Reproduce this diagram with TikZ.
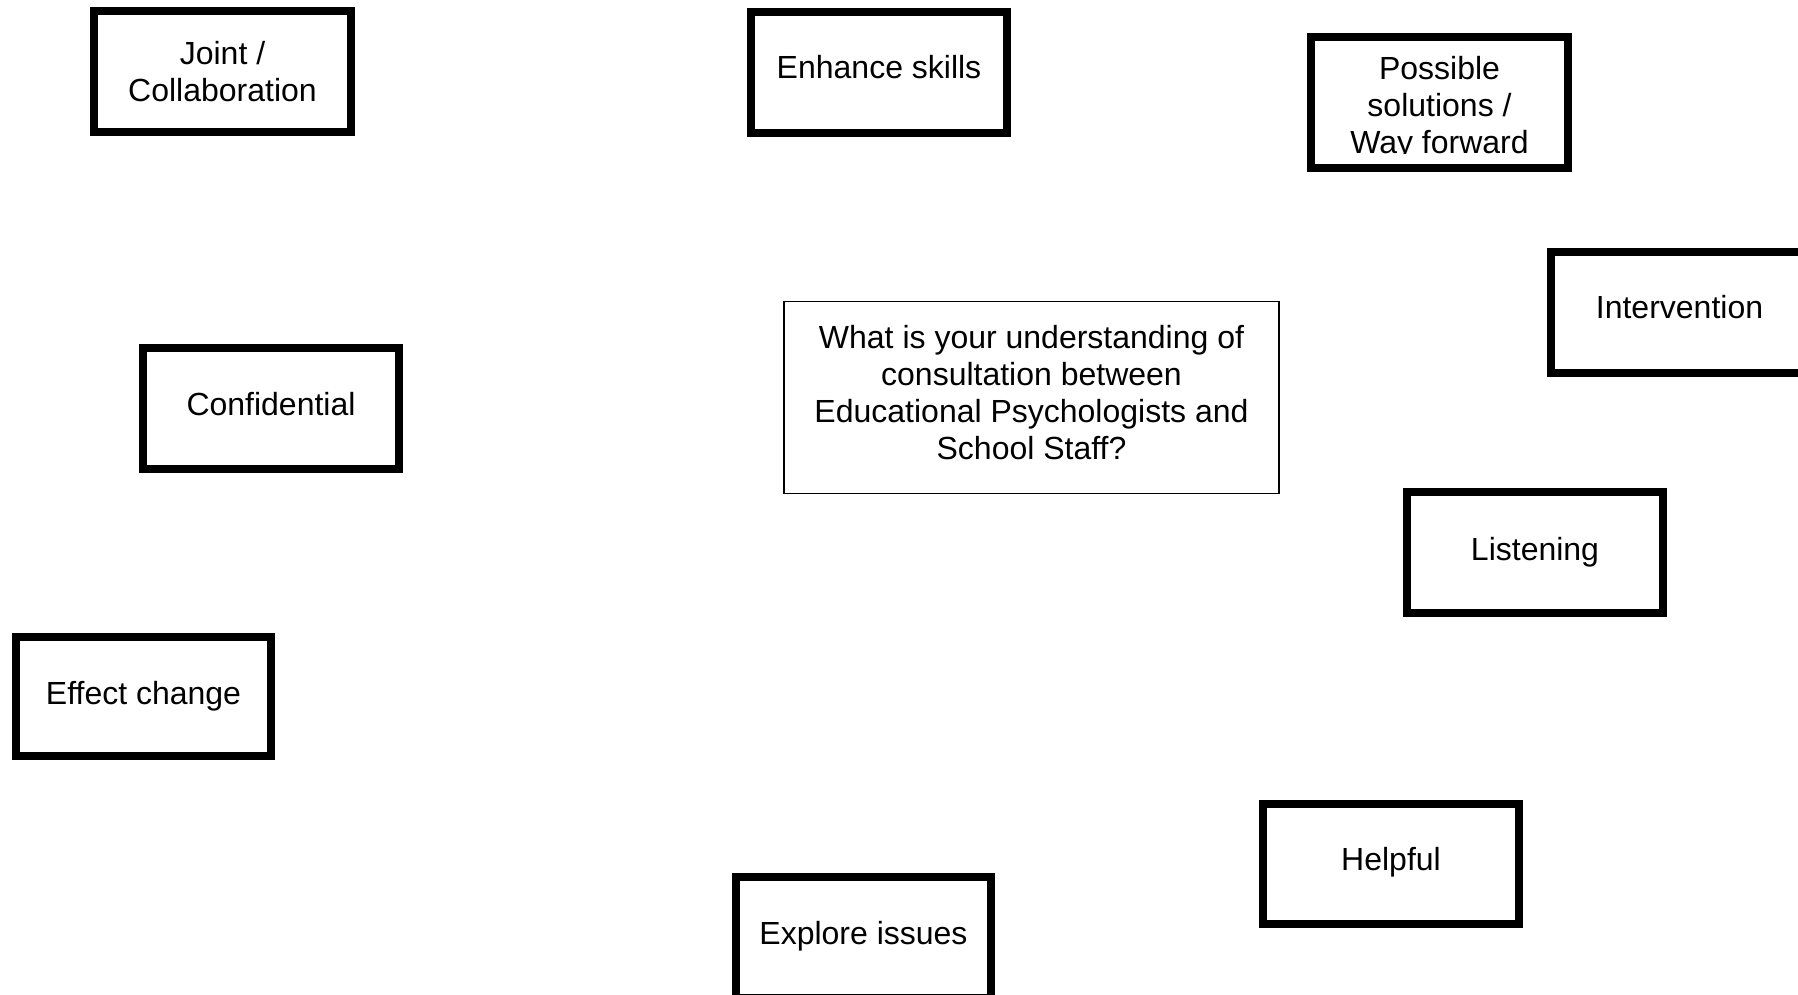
\documentclass[tikz,border=0pt]{standalone}
\usepackage{fontspec}
\setmainfont{Liberation Sans}
\begin{document}
\begin{tikzpicture}[x=1pt,y=-1pt,
  cardbox/.style={draw=black, line width=8pt, rectangle, inner sep=0pt,
                  minimum width=257pt, minimum height=121pt},
  questionbox/.style={draw=black, line width=1.5pt, rectangle, inner sep=0pt,
                  minimum width=495pt, minimum height=192pt},
  cardtext/.style={anchor=north, inner sep=0pt, align=center, text=black,
                   font=\fontsize{32}{37}\selectfont}]
\useasboundingbox (0,0) rectangle (1798,995);
\clip (0,0) rectangle (1798,995);

% frames
\node[cardbox] (jointbox) at (222.5,72) {};
\node[cardbox, minimum width=256pt] (enhancebox) at (879,72.5) {};
\node[cardbox, minimum height=131pt] (solutionbox) at (1439.5,102.5) {};
\node[cardbox] (interventionbox) at (1679.5,312) {};
\node[cardbox, minimum width=256pt] (confidentialbox) at (271,408.5) {};
\node[questionbox] (questionframe) at (1031.5,397.3) {};
\node[cardbox, minimum width=256pt] (listeningbox) at (1535,552.5) {};
\node[cardbox, minimum width=255pt, minimum height=119pt] (effectbox) at (143.5,696) {};
\node[cardbox, minimum width=256pt, minimum height=120pt] (helpfulbox) at (1391,864) {};
\node[cardbox, minimum width=255pt] (explorebox) at (863.5,937.5) {};

% labels
\node[cardtext] (jointtext) at (222.5,38.1) {\strut Joint /\\\strut Collaboration};
\node[cardtext] (enhancetext) at (879,52.1) {\strut Enhance skills};
\begin{scope}
  \clip (1307,33) rectangle (1572,153.5);
  \node[cardtext] (solutiontext) at (1439.5,53.6)
    {\strut Possible\\\strut solutions /\\\strut Way forward};
\end{scope}
\node[cardtext] (interventiontext) at (1679.5,292.1) {\strut Intervention};
\node[cardtext] (confidentialtext) at (271,389.1) {\strut Confidential};
\node[cardtext] (questiontext) at (1031.5,322.6)
  {\strut What is your understanding of\\\strut consultation between\\
   \strut Educational Psychologists and\\\strut School Staff?};
\node[cardtext] (listeningtext) at (1535,534.1) {\strut Listening};
\node[cardtext] (effecttext) at (143.5,678.1) {\strut Effect change};
\node[cardtext] (helpfultext) at (1391,844.1) {\strut Helpful};
\node[cardtext] (exploretext) at (863.5,918.1) {\strut Explore issues};
\end{tikzpicture}
\end{document}
